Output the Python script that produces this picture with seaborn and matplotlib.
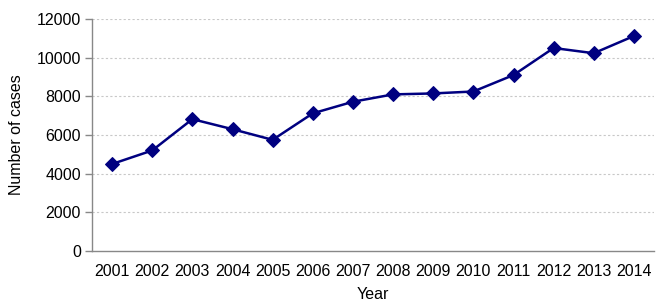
import numpy as np
import pandas as pd
import matplotlib.pyplot as plt
import seaborn as sns

sns.set_style("white")
plt.rcParams['font.family'] = ['Liberation Sans', 'DejaVu Sans']
plt.rcParams['text.color'] = "black"
plt.rcParams['axes.labelcolor'] = "black"
plt.rcParams['xtick.labelcolor'] = "black"
plt.rcParams['ytick.labelcolor'] = "black"

years = ["2001", "2002", "2003", "2004", "2005", "2006", "2007",
         "2008", "2009", "2010", "2011", "2012", "2013", "2014"]
cases = [4500, 5200, 6820, 6300, 5750, 7120, 7720,
         8100, 8150, 8250, 9100, 10500, 10230, 11120]

df = pd.DataFrame({"year": years, "cases": cases})

fig = plt.figure(figsize=(6.58, 3.06), dpi=100)
ax = fig.add_axes([92 / 658, 55 / 306, (654 - 92) / 658, (251 - 19) / 306])

sns.lineplot(data=df, x="year", y="cases", ax=ax, color="#000080",
             marker="D", markersize=7, markeredgecolor="#000080",
             linewidth=1.8, sort=False)

ax.set_xlim(-0.5, len(years) - 0.5)
ax.set_ylim(0, 12000)
ax.set_yticks(np.arange(0, 12001, 2000))
ax.set_xticks(np.arange(len(years)))
ax.set_xticklabels(years)
ax.set_xticks(np.arange(len(years) + 1) - 0.5, minor=True)

# dotted horizontal gridlines
for yv in np.arange(2000, 12001, 2000):
    ax.axhline(yv, color="#c8c8c8", linestyle=(0, (2, 2)), linewidth=0.8, zorder=0)

ax.tick_params(axis="x", which="major", length=0, pad=9, labelsize=11.5)
ax.tick_params(axis="x", which="minor", length=5, width=1, color="#888888",
               direction="out")
ax.tick_params(axis="y", length=5, width=1, color="#888888", direction="out",
               pad=3, labelsize=11.5, left=True)

for side in ["top", "right"]:
    ax.spines[side].set_visible(False)
for side in ["left", "bottom"]:
    ax.spines[side].set_color("#888888")
    ax.spines[side].set_linewidth(1)

ax.set_xlabel("Year", fontsize=11.5, labelpad=6)
ax.set_ylabel("Number of cases", fontsize=11.5, labelpad=9)

fig.savefig("out.png", dpi=100)
